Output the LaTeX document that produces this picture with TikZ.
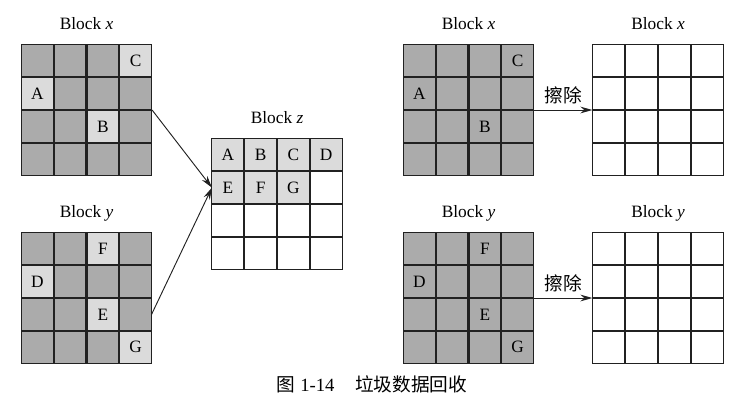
\documentclass[tikz,border=0pt]{standalone}
\usepackage{fontspec}
\setmainfont{Liberation Serif}
\newfontfamily\cjk{Noto Sans CJK SC}
\usetikzlibrary{matrix,positioning,arrows.meta}
\definecolor{darkcell}{gray}{0.67}
\definecolor{litcell}{gray}{0.86}
\definecolor{inkline}{gray}{0.13}

\tikzset{
  cell/.style={draw=inkline, line width=0.8pt, fill=darkcell, minimum size=23.8pt,
    inner sep=0pt, outer sep=0pt, anchor=center, font=\fontsize{13pt}{15pt}\selectfont},
  lit/.style={fill=litcell},
  blank/.style={fill=white},
  blockgrid/.style={matrix of nodes, nodes in empty cells, inner sep=0pt, outer sep=0pt,
    nodes={cell}},
  emptygrid/.style={blockgrid, nodes={blank}},
  lbl/.style={inner sep=0pt, text depth=0pt, font=\fontsize{13pt}{15pt}\selectfont},
  erase/.style={inner sep=0pt, font=\cjk\fontsize{14pt}{16pt}\selectfont},
  arr/.style={draw=inkline, -{Stealth[length=9pt,width=5pt]}, line width=0.7pt},
}

\begin{document}
\begin{tikzpicture}[x=0.75pt,y=-0.75pt]
\useasboundingbox (0,0) rectangle (752,410);

% Left: valid pages of x and y copied into z
\matrix (bx) [blockgrid] at (86.5,110) {
  & & & |[lit]| C \\
  |[lit]| A & & & \\
  & & |[lit]| B & \\
  & & & \\
};
\node[lbl, above=11pt of bx] (tx) {Block \textit{x}};

\matrix (by) [blockgrid] at (86.5,298) {
  & & |[lit]| F & \\
  |[lit]| D & & & \\
  & & |[lit]| E & \\
  & & & |[lit]| G \\
};
\node[lbl, above=11pt of by] (ty) {Block \textit{y}};

\matrix (bz) [emptygrid] at (277,204) {
  |[lit]| A & |[lit]| B & |[lit]| C & |[lit]| D \\
  |[lit]| E & |[lit]| F & |[lit]| G & \\
  & & & \\
  & & & \\
};
\node[lbl, above=11pt of bz] (tz) {Block \textit{z}};

\draw[arr] (bx.east) -- (bz-2-1.west);
\draw[arr] (by-3-4.east) -- (bz-2-1.west);

% Right: old blocks, now all stale, get erased
\matrix (bx2) [blockgrid] at (468.5,110) {
  & & & C \\
  A & & & \\
  & & B & \\
  & & & \\
};
\node[lbl, above=11pt of bx2] (tx2) {Block \textit{x}};

\matrix (bx3) [emptygrid] at (658,110) {
  & & & \\
  & & & \\
  & & & \\
  & & & \\
};
\node[lbl, above=11pt of bx3] (tx3) {Block \textit{x}};

\matrix (by2) [blockgrid] at (468.5,298) {
  & & F & \\
  D & & & \\
  & & E & \\
  & & & G \\
};
\node[lbl, above=11pt of by2] (ty2) {Block \textit{y}};

\matrix (by3) [emptygrid] at (658,298) {
  & & & \\
  & & & \\
  & & & \\
  & & & \\
};
\node[lbl, above=11pt of by3] (ty3) {Block \textit{y}};

\draw[arr] (bx2.east) -- node[erase, above=4pt] (ex) {擦除} (bx3.west);
\draw[arr] (by2.east) -- node[erase, above=4pt] (ey) {擦除} (by3.west);

% Caption
\node[font=\fontsize{14pt}{16pt}\selectfont, inner sep=0pt] (cap) at (372,384)
  {{\cjk 图} 1-14\hspace{1.1em}{\cjk 垃圾数据回收}};
\end{tikzpicture}
\end{document}
